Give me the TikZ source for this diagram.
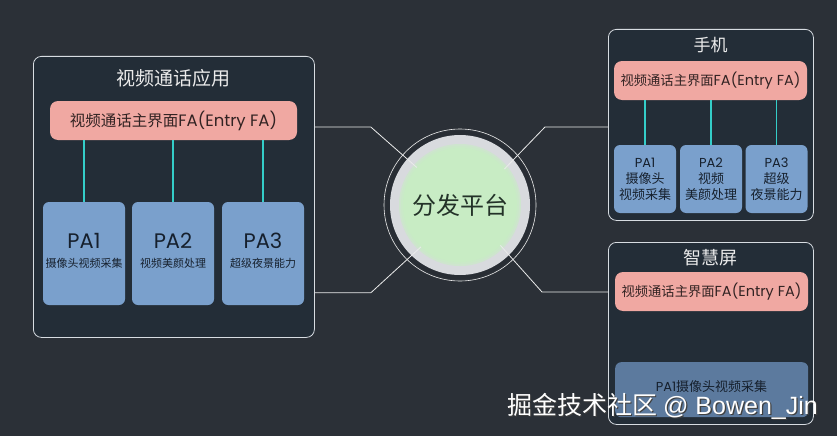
\documentclass[tikz,border=0pt]{standalone}
\usepackage{fontspec}
\setmainfont{Noto Sans CJK SC}
\newfontfamily\lat{Poppins}
\newfontfamily\wmlat{Liberation Sans}
\definecolor{bg}{RGB}{43,48,55}
\definecolor{boxfill}{RGB}{35,45,55}
\definecolor{boxline}{RGB}{215,220,225}
\definecolor{pink1}{RGB}{240,168,162}
\definecolor{fatext}{RGB}{50,35,35}
\definecolor{pablue}{RGB}{122,160,204}
\definecolor{padim}{RGB}{92,122,158}
\definecolor{patext}{RGB}{22,32,45}
\definecolor{tealc}{RGB}{52,205,200}
\definecolor{linkc}{RGB}{235,235,235}
\definecolor{titlec}{RGB}{235,235,235}
\definecolor{hubgray}{RGB}{216,218,222}
\definecolor{hubgreen}{RGB}{200,236,196}
\definecolor{ringc}{RGB}{40,45,52}
\newcommand{\fsz}[1]{\fontsize{#1}{#1}\selectfont}
\newcommand{\fsl}[2]{\fontsize{#1}{#2}\selectfont}
\newcommand{\falabel}[2]{{\fsz{#1}视频通话主界面}{\lat\fsz{#2}FA(Entry FA)}}
\begin{document}
\begin{tikzpicture}[x=1pt,y=-1pt,
 container/.style={draw=boxline, line width=0.8pt, fill=boxfill, rounded corners=8pt, minimum width=205pt, inner sep=0pt, anchor=north west},
 fabar/.style={fill=pink1, rounded corners=8pt, text=fatext, inner sep=0pt, minimum height=39pt},
 pabox/.style={fill=pablue, rounded corners=6pt, text=patext, inner sep=0pt, align=center},
 patitle/.style={inner sep=0pt, text=patext, font=\lat\fsz{21}, text height=14.7pt, text depth=0pt},
 pasub/.style={inner sep=0pt, text=patext, font=\fsz{11}, text height=9pt, text depth=1.5pt},
 tealline/.style={draw=tealc, line width=1.6pt},
 link/.style={draw=linkc, line width=0.8pt},
 titletext/.style={text=titlec, inner sep=0pt}]
\fill[bg] (0,0) rectangle (837,436);
\useasboundingbox (0,0) rectangle (837,436);

% left container
\node[container, minimum width=281pt, minimum height=281pt] (lc) at (33,56) {};
\node[titletext, font=\fsz{19}] (lct) at (173.5,78) {视频通话应用};
\node[fabar, minimum width=247pt] (fa1) at (173.5,120.5) {\falabel{15.5}{16.5}};
\node[pabox, minimum width=82pt, minimum height=103pt] (pa1) at (84,253.5) {};
\node[pabox, minimum width=82pt, minimum height=103pt] (pa2) at (173,253.5) {};
\node[pabox, minimum width=82pt, minimum height=103pt] (pa3) at (263,253.5) {};
\node[patitle] (pa1t) at (84,241.5) {PA1};
\node[patitle] (pa2t) at (173,241.5) {PA2};
\node[patitle] (pa3t) at (263,241.5) {PA3};
\node[pasub] (pa1s) at (84,263.5) {摄像头视频采集};
\node[pasub] (pa2s) at (173,263.5) {视频美颜处理};
\node[pasub] (pa3s) at (263,263.5) {超级夜景能力};
\foreach \p in {pa1,pa2,pa3} \draw[tealline] (\p.north) -- (\p.north |- fa1.south);

% phone container
\node[container, minimum height=191pt] (ph) at (608,29) {};
\node[titletext, font=\fsz{17}] (pht) at (710.5,45) {手机};
\node[fabar, minimum width=193pt] (fa2) at (710.5,80.5) {\falabel{13.3}{14.5}};
\node[pabox, minimum width=62pt, minimum height=68pt, font=\fsl{13}{16}] (ppa1) at (645,179) {{\lat PA1}\\摄像头\\视频采集};
\node[pabox, minimum width=62pt, minimum height=68pt, font=\fsl{13}{16}] (ppa2) at (711,179) {{\lat PA2}\\视频\\美颜处理};
\node[pabox, minimum width=62pt, minimum height=68pt, font=\fsl{13}{16}] (ppa3) at (776.5,179) {{\lat PA3}\\超级\\夜景能力};
\foreach \p in {ppa1,ppa2,ppa3} \draw[tealline] (\p.north) -- (\p.north |- fa2.south);

% smart screen container
\node[container, minimum height=182pt] (sc) at (608,242) {};
\node[titletext, font=\fsz{18}] (sct) at (710.5,258) {智慧屏};
\node[fabar, minimum width=193pt] (fa3) at (711.5,291.5) {\falabel{13.3}{14.5}};
\node[pabox, fill=padim, minimum width=193pt, minimum height=55pt, anchor=north west] (spa) at (615,362) {};
\node[inner sep=0pt, text=patext] (spat) at (711.5,387) {{\lat\fsz{13}PA1}{\fsz{13}摄像头视频采集}};

% hub
\node[circle, draw=linkc, line width=0.6pt, minimum size=152pt, inner sep=0pt] (hubout) at (460,205) {};
\fill[ringc] (hubout.center) circle (74pt);
\fill[hubgray] (hubout.center) circle (70pt);
\fill[hubgreen!60!hubgray] (hubout.center) circle (61pt);
\fill[hubgreen!85!hubgray] (hubout.center) circle (59pt);
\node[circle, fill=hubgreen, minimum size=114pt, inner sep=0pt, text={rgb,255:red,35;green,50;blue,40}, font=\fsz{24}] (hubin) at (hubout.center) {分发平台};

% links
\draw[link] ([yshift=-71pt]lc.north east) -- ++(56,0) -- (hubin.139);
\draw[link] ([yshift=45pt]lc.south east) -- ++(56,0) -- (hubin.227);
\draw[link] ([yshift=-98pt]ph.north west) -- ++(-63,0) -- (hubin.39);
\draw[link] ([yshift=-50pt]sc.north west) -- ++(-66,0) -- (hubin.-45);

% watermark
\node[anchor=east, inner sep=0pt, text=black!75, font=\fsz{25}] (wms) at (819.3,407.8) {掘金技术社区 {\wmlat @ Bowen\_Jin}};
\node[anchor=east, inner sep=0pt, text=white, font=\fsz{25}] (wm) at (818,406.5) {掘金技术社区 {\wmlat @ Bowen\_Jin}};
\end{tikzpicture}
\end{document}
